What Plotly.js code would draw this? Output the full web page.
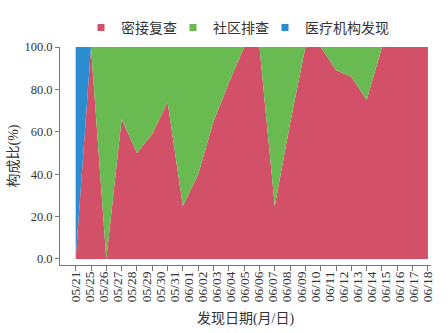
<!DOCTYPE html>
<html>
<head>
<meta charset="utf-8">
<script src="https://cdn.plot.ly/plotly-3.0.1.min.js"></script>
<style>html,body{margin:0;padding:0;background:#fff;}#chart{width:448px;height:333px;}</style>
</head>
<body>
<div id="chart"></div>
<script>
// tick labels (dates on the x axis)
const dates = ['05/21','05/25','05/26','05/27','05/28','05/29','05/30','05/31',
  '06/01','06/02','06/03','06/04','06/05','06/06','06/07','06/08','06/09',
  '06/10','06/11','06/12','06/13','06/14','06/15','06/16','06/17','06/18'];
// series values (%), one per plotted point
const closeContact = [0,100,0,66,50,59,74,25,40,65,83,100,100,25,64,100,100,89,86,75,100,100,100,100];
const community    = [0,0,100,34,50,41,26,75,60,35,17,0,0,75,36,0,0,11,14,25,0,0,0,0];
const hospital     = [100,0,0,0,0,0,0,0,0,0,0,0,0,0,0,0,0,0,0,0,0,0,0,0];
const seriesNames = ['密接复查','社区排查','医疗机构发现'];
const colors = ['#d25068','#6aba52','#2b8ccf'];

const idx = closeContact.map((_, i) => i);
const nPts = closeContact.length;
const labelPos = dates.map((_, i) => i * (nPts - 1) / (dates.length - 1));

const font = "'Liberation Serif', 'Noto Sans CJK SC', serif";
const series = [closeContact, community, hospital];
const traces = series.map((vals, k) => ({
  type: 'scatter', x: idx, y: vals, stackgroup: 'one', mode: 'none',
  fillcolor: colors[k], name: seriesNames[k], showlegend: false, hoverinfo: 'skip'
}));
const legendIds = ['legend', 'legend2', 'legend3'];
seriesNames.forEach((n, k) => traces.push({
  type: 'scatter', x: [null], y: [null], mode: 'markers', name: n, legend: legendIds[k],
  marker: {symbol: 'square', size: 7, color: colors[k]}, showlegend: true
}));

const legendX = [0.0566, 0.3046, 0.5526];
const mkLegend = (x) => ({orientation: 'h', x: x, xanchor: 'left', y: 1.088, yanchor: 'middle',
  font: {family: font, size: 14, color: '#333'}, itemwidth: 30, bgcolor: 'rgba(0,0,0,0)'});

const layout = {
  width: 448, height: 333,
  margin: {l: 60, r: 17, t: 37, b: 68},
  paper_bgcolor: '#fff', plot_bgcolor: '#fff',
  font: {family: font, size: 12, color: '#333'},
  showlegend: true,
  legend: mkLegend(legendX[0]),
  legend2: mkLegend(legendX[1]),
  legend3: mkLegend(legendX[2]),
  xaxis: {
    type: 'linear', range: [-1.024, 23.2], showgrid: false, zeroline: false,
    showline: true, linecolor: '#777', linewidth: 1,
    tickmode: 'array', tickvals: labelPos, ticktext: dates, tickangle: -90,
    ticks: 'outside', ticklen: 0, tickfont: {family: font, size: 13.5, color: '#333'},
    minor: {tickmode: 'array', tickvals: idx, ticks: 'outside', ticklen: 5, tickcolor: '#777', tickwidth: 1, showgrid: false},
    title: {text: '发现日期(月/日)', font: {family: font, size: 14, color: '#333'}, standoff: 12}
  },
  yaxis: {
    range: [-2.84, 100], showgrid: false, zeroline: false,
    showline: true, linecolor: '#777', linewidth: 1,
    tickmode: 'array', tickvals: [0,20,40,60,80,100], tickformat: '.1f',
    ticks: 'outside', ticklen: 4, tickcolor: '#777',
    tickfont: {family: font, size: 12.5, color: '#333'},
    title: {text: '构成比(%)', font: {family: font, size: 14, color: '#333'}, standoff: 2}
  }
};
Plotly.newPlot('chart', traces, layout, {displayModeBar: false, staticPlot: true});
</script>
</body>
</html>
